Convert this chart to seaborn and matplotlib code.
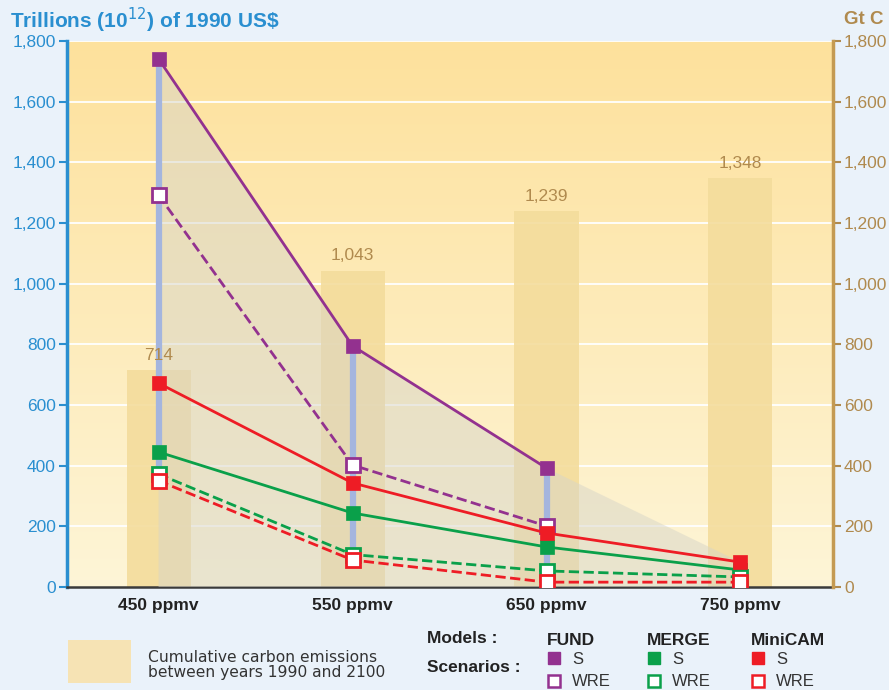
import numpy as np
import matplotlib
matplotlib.use("Agg")
import matplotlib.pyplot as plt
import seaborn as sns
import pandas as pd
from matplotlib.colors import LinearSegmentedColormap
from matplotlib.patches import Rectangle

# =============================
# DATA
# =============================
categories = ["450 ppmv", "550 ppmv", "650 ppmv", "750 ppmv"]
emissions = [714, 1043, 1239, 1348]          # Gt C, right axis

fund_s = [1741, 795, 392]
fund_wre = [1292, 402, 201]
merge_s = [445, 244, 132, 56]
merge_wre = [372, 107, 53, 33]
minicam_s = [672, 343, 178, 82]
minicam_wre = [350, 89, 16, 16]

y_ticks = [0, 200, 400, 600, 800, 1000, 1200, 1400, 1600, 1800]

# =============================
# STYLE
# =============================
sns.set_style("white")
plt.rcParams['font.family'] = ['Liberation Sans', 'DejaVu Sans']

BG = "#eaf2fa"
BLUE = "#2a8fd0"
TAN = "#b08a4e"
BAR = "#f3dc9c"
PURPLE = "#93318f"
GREEN = "#0aa04a"
RED = "#ee1c25"
VLINE = "#a4b5de"

fig = plt.figure(figsize=(8.89, 6.9), dpi=100, facecolor=BG)
ax = fig.add_axes([67/889, 103/690, 766/889, 546/690])
xlim = (-0.472, 3.477)
ylim = (0, 1800)

# gradient background
cmap = LinearSegmentedColormap.from_list("bg", ["#fef5d7", "#fde19c"])
grad = np.linspace(0, 1, 256).reshape(-1, 1)
ax.imshow(grad, extent=[xlim[0], xlim[1], ylim[0], ylim[1]], origin="lower",
          aspect="auto", cmap=cmap, zorder=0)

# white grid
for t in y_ticks[1:]:
    ax.axhline(t, color="white", lw=1.3, zorder=1)

# emission bars
df_bar = pd.DataFrame({"x": np.arange(len(categories)), "v": emissions})
sns.barplot(data=df_bar, x="x", y="v", native_scale=True, color=BAR,
            width=0.33, saturation=1, ax=ax, zorder=2, linewidth=0)
for p in ax.patches:
    p.set_alpha(0.9)
for i, v in enumerate(emissions):
    ax.text(i, v + 25, f"{v:,}", ha="center", va="bottom", color=TAN,
            fontsize=12.5, zorder=8)

# grey polygon under FUND S
xp = [0, 0, 1, 2, 3, 3]
yp = [0, fund_s[0], fund_s[1], fund_s[2], minicam_s[3], 0]
ax.fill(xp, yp, color="#d7d5c8", alpha=0.5, lw=0, zorder=3)

# vertical range lines
all_series = [fund_s, fund_wre, merge_s, merge_wre, minicam_s, minicam_wre]
for i in range(len(categories)):
    vals = [s[i] for s in all_series if i < len(s)]
    ax.plot([i, i], [min(vals), max(vals)], color=VLINE, lw=4.5, zorder=4,
            solid_capstyle="butt")

# model lines
series = [
    (fund_s, PURPLE, "-", True),
    (fund_wre, PURPLE, "--", False),
    (merge_s, GREEN, "-", True),
    (merge_wre, GREEN, "--", False),
    (minicam_s, RED, "-", True),
    (minicam_wre, RED, "--", False),
]
for vals, col, ls, filled in series:
    d = pd.DataFrame({"x": np.arange(len(vals)), "y": vals})
    sns.lineplot(data=d, x="x", y="y", color=col, lw=2, ax=ax, zorder=5,
                 linestyle=ls, marker="s", markersize=10,
                 markerfacecolor=col if filled else "white",
                 markeredgecolor=col, markeredgewidth=2 if not filled else 0.5,
                 dashes=(3.5, 2.2) if ls == "--" else "")

ax.set_xlim(xlim)
ax.set_ylim(ylim)
ax.set_xlabel("")
ax.set_ylabel("")
ax.set_xticks(range(len(categories)))
ax.set_xticklabels(categories, fontsize=12.5, fontweight="bold", color="#222222")
ax.tick_params(axis="x", length=0, pad=8)
ax.set_yticks(y_ticks)
ax.set_yticklabels([f"{t:,}" for t in y_ticks], fontsize=12.5, color=BLUE)
ax.tick_params(axis="y", colors=BLUE, length=6, width=1.5, pad=2, labelcolor=BLUE)

for s in ["top", "right"]:
    ax.spines[s].set_visible(False)
ax.spines["left"].set_color(BLUE)
ax.spines["left"].set_linewidth(2.5)
ax.spines["bottom"].set_color("#3a3a3a")
ax.spines["bottom"].set_linewidth(1.8)

# right axis
ax2 = ax.twinx()
ax2.set_ylim(ylim)
ax2.set_yticks(y_ticks)
ax2.set_yticklabels([f"{t:,}" for t in y_ticks], fontsize=12.5, color=TAN)
ax2.tick_params(axis="y", colors=TAN, length=6, width=1.5, pad=2, labelcolor=TAN)
for s in ["top", "left", "bottom"]:
    ax2.spines[s].set_visible(False)
ax2.spines["right"].set_color("#c49a52")
ax2.spines["right"].set_linewidth(2.5)

fig.text(10/889, 1 - 20/690, "Trillions (10$^{12}$) of 1990 US\\$", color=BLUE,
         fontsize=15, fontweight="bold", va="center", ha="left")
fig.text(884/889, 1 - 19/690, "Gt C", color=TAN, fontsize=13.5,
         fontweight="bold", va="center", ha="right")

# =============================
# LEGEND (pixel coordinates)
# =============================
lg = fig.add_axes([0, 0, 1, 1], facecolor="none")
lg.set_xlim(0, 889)
lg.set_ylim(690, 0)
lg.axis("off")

lg.add_patch(Rectangle((68, 640), 63, 43, color="#f6e3b4", lw=0))
lg.text(148, 662, "Cumulative carbon emissions", fontsize=11.2, va="baseline",
        color="#333333", family="DejaVu Sans")
lg.text(148, 677, "between years 1990 and 2100", fontsize=11.2, va="baseline",
        color="#333333", family="DejaVu Sans")
lg.text(427, 643, "Models :", fontsize=12.5, fontweight="bold", va="baseline",
        color="#222222")
lg.text(427, 672, "Scenarios :", fontsize=12.5, fontweight="bold", va="baseline",
        color="#222222")

models = [("FUND", PURPLE, 547), ("MERGE", GREEN, 647), ("MiniCAM", RED, 751)]
for name, col, x0 in models:
    lg.text(x0, 645, name, fontsize=12.5, fontweight="bold", va="baseline",
            color="#222222")
    lg.plot(x0 + 7, 658, marker="s", markersize=9, color=col,
            markeredgecolor=col)
    lg.text(x0 + 25, 664, "S", fontsize=12, va="baseline", color="#333333")
    lg.plot(x0 + 7, 681, marker="s", markersize=9, markerfacecolor="white",
            markeredgecolor=col, markeredgewidth=1.8)
    lg.text(x0 + 25, 686, "WRE", fontsize=12, va="baseline", color="#333333")

fig.savefig("out.png", dpi=100, facecolor=BG)
